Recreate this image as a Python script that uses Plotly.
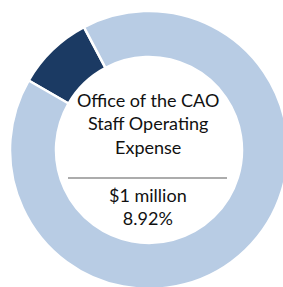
import plotly.graph_objects as go

labels = ["Office of the CAO Staff Operating Expense", "Other"]
values = [8.92, 91.08]
colors = ["#1B3A63", "#B8CCE4"]
title_lines = ["Office of the CAO", "Staff Operating", "Expense"]
amount_text = "$1 million"
pct_text = "8.92%"

W, H = 300, 300
cx, cy, R = 149, 150, 139

fig = go.Figure(go.Pie(
    labels=labels, values=values, sort=False,
    direction="clockwise", rotation=-60,
    hole=0.669,
    marker=dict(colors=colors, line=dict(color="white", width=2.5)),
    textinfo="none", hoverinfo="label+percent",
    domain=dict(x=[(cx - R) / W, (cx + R) / W], y=[(H - cy - R) / H, (H - cy + R) / H]),
    showlegend=False,
))

font = dict(family="Lato, Open Sans, sans-serif", size=18, color="#111111")
fig.add_annotation(text="<br>".join(title_lines), x=148 / W, y=1 - 123.5 / H,
                   xref="paper", yref="paper", showarrow=False, font=font,
                   xanchor="center", yanchor="middle")
fig.add_annotation(text=amount_text + "<br>" + pct_text, x=148 / W, y=1 - 206 / H,
                   xref="paper", yref="paper", showarrow=False, font=font,
                   xanchor="center", yanchor="middle")
fig.add_shape(type="line", xref="paper", yref="paper",
              x0=68 / W, x1=227 / W, y0=1 - 178 / H, y1=1 - 178 / H,
              line=dict(color="#5a5a5a", width=1.2))

fig.update_layout(width=W, height=H, margin=dict(l=0, r=0, t=0, b=0),
                  paper_bgcolor="white", plot_bgcolor="white")

fig.write_html("out.html", config={"displayModeBar": False},
               post_script="document.body.style.margin='0';document.body.style.overflow='hidden';")
